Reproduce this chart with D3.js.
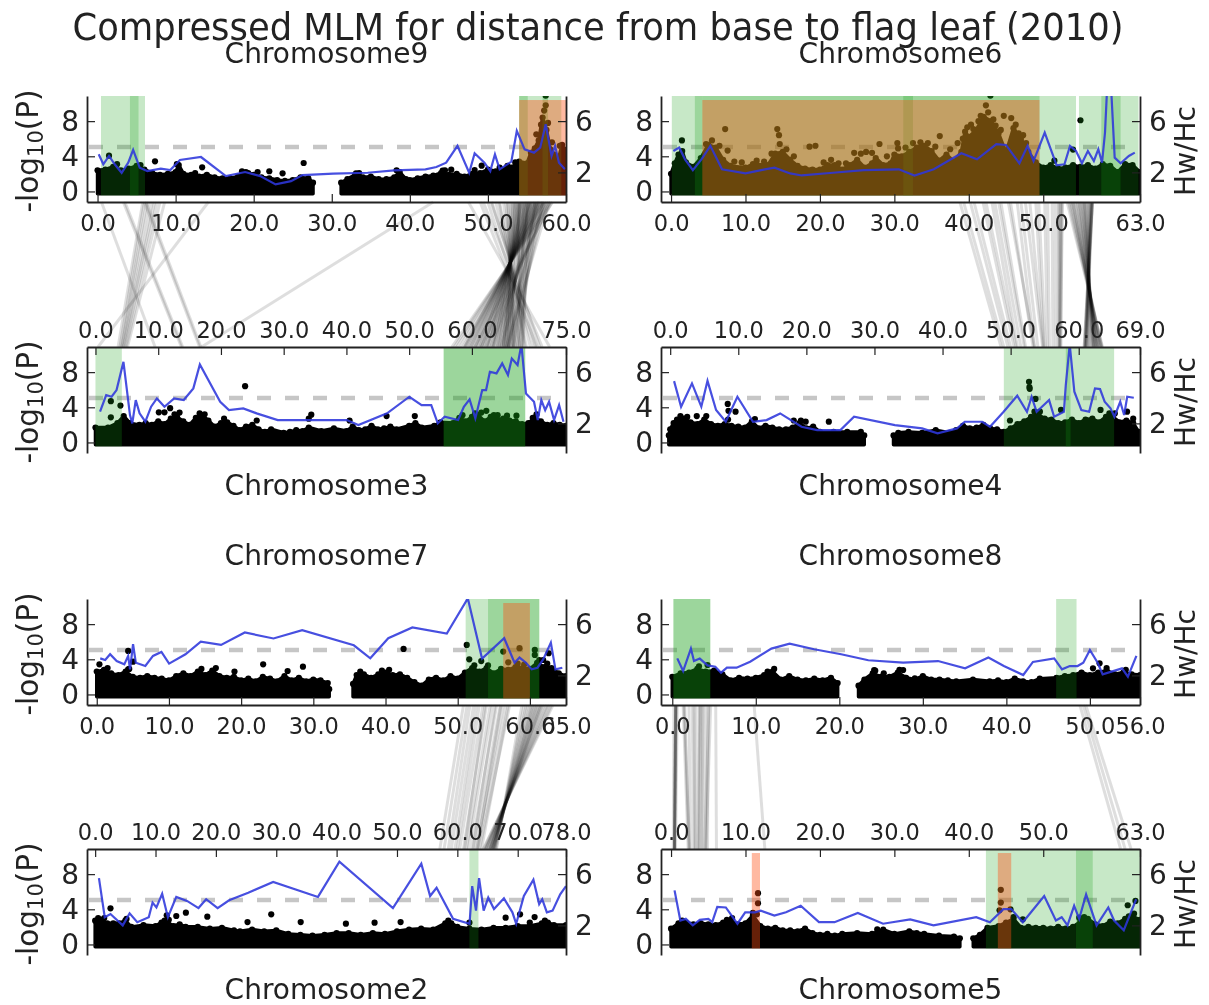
<!DOCTYPE html>
<html>
<head>
<meta charset="utf-8">
<script src="https://d3js.org/d3.v7.min.js"></script>
<style>
  html, body { margin: 0; padding: 0; background: #fff; }
  svg { display: block; filter: blur(0.7px); }
  text { font-family: "DejaVu Sans", sans-serif; fill: #222; }
</style>
</head>
<body>
<div id="chart"></div>
<script>
var chartTitle = "Compressed MLM for distance from base to flag leaf (2010)";

// position ticks (Mb), the last one is the chromosome length
var ticksChr9 = [0, 10, 20, 30, 40, 50, 60];
var ticksChr3 = [0, 10, 20, 30, 40, 50, 60, 75];
var ticksChr6 = [0, 10, 20, 30, 40, 50, 63];
var ticksChr4 = [0, 10, 20, 30, 40, 50, 60, 69];
var ticksChr7 = [0, 10, 20, 30, 40, 50, 60, 65];
var ticksChr2 = [0, 10, 20, 30, 40, 50, 60, 70, 78];
var ticksChr8 = [0, 10, 20, 30, 40, 50, 56];
var ticksChr5 = [0, 10, 20, 30, 40, 50, 63];

var leftTicks = [0, 4, 8];
var rightTicks = [2, 6];
var threshold = 5.06;

// Hw/Hc line, [position, ratio]
var blueChr9 = [[.15,3.41],[.74,2.63],[1.47,3.28],[2.2,2.63],[3.09,1.97],[3.93,2.76],[4.56,3.75],[5.4,2.37],[6.38,2.1],[8.1,2.29],[9.32,2.18],[10.55,2.97],[13.25,3.2],[16.44,1.71],[18.9,2.03],[20.85,1.71],[22.8,1.06],[24.78,1.32],[26.25,1.79],[30.2,1.9],[34.6,1.97],[38,2.16],[42,2.24],[43.4,2.42],[44.65,2.76],[46.1,4.07],[47.6,1.97],[48.3,3.49],[49.55,2.76],[50.3,2.1],[50.9,3.41],[51.5,2.24],[53,2.84],[53.7,5.24],[54.7,3.8],[55.9,3.54],[56.7,3.93],[57.4,5.76],[58.15,3.28],[58.6,4.07],[59.1,2.76],[59.86,2.24]];
var blueChr6 = [[.31,3.67],[1.1,3.93],[1.88,3.02],[2.93,2.18],[4.08,3.02],[5.28,4.07],[6.85,2.24],[10,1.92],[12.6,2.24],[13.9,2.37],[16,1.92],[17.56,1.76],[21.75,1.97],[25.9,2.18],[30.6,2.24],[32.7,1.76],[35.3,2.24],[39,3.49],[41.1,3.02],[43.7,4.2],[45,4.14],[46.8,2.71],[47.9,4.07],[48.7,2.89],[50.2,5.11],[51.8,2.55],[52.85,2.63],[53.6,4.07],[54.4,3.67],[55.2,2.71],[56,3.67],[56.8,2.89],[57.4,3.8],[57.9,2.76],[58.3,5.11],[58.6,8.8],[59.1,8.8],[59.6,3.15],[60.4,2.71],[61.5,3.28],[62.3,3.54]];
var blueChr3 = [[.73,2.91],[1.71,4.21],[2.57,4.08],[3.36,4.6],[4.46,6.8],[5.5,2.65],[5.87,2],[6.42,3.82],[7.03,2.78],[7.95,2.13],[8.87,3.3],[9.79,3.95],[11,3.3],[12.54,3.95],[14.07,3.82],[15.6,4.73],[16.64,6.6],[19.88,3.69],[21.28,3.04],[23.55,3.17],[25.69,2.78],[29.05,2.26],[33.64,2.26],[40.06,2.26],[41.9,1.87],[46.48,2.78],[50.03,4.08],[51.99,3.43],[53.52,3.43],[54.56,2],[55.66,2.52],[57.8,2.26],[58.72,3.3],[59.63,3.87],[60.55,2.39],[61.65,4.6],[62.26,4.6],[62.87,6.03],[63.92,5.9],[64.83,6.68],[65.75,5.77],[66.36,7.06],[67.28,6.55],[67.89,8.15],[68.62,4.34],[69.9,3.69],[70.5,2.26],[71.07,3.82],[71.68,3.04],[72.3,3.69],[73.1,2.26],[73.9,3.43],[74.6,2.13]];
var blueChr4 = [[.57,5.3],[1.6,3.3],[3.2,5.12],[4.57,3.3],[5.48,5.32],[6.74,3.04],[8.16,2.13],[9.87,4.08],[12.16,2.13],[14.16,2.26],[16.15,2.78],[19.29,1.74],[21.58,1.48],[25,1.48],[27,2.52],[33,1.87],[37,1.61],[39.27,1.22],[42.12,1.61],[43.26,2.13],[45.83,2.13],[46.97,1.74],[48.97,2.91],[50.97,4.16],[52.4,2.91],[53.08,4.08],[53.82,2.91],[55.65,3.82],[56.39,2.52],[57.82,2.91],[58.1,4.99],[58.68,8.15],[59.36,4.47],[60.39,3.04],[61.53,2.91],[62.39,4.73],[63.13,4.68],[63.81,3.69],[64.67,3.17],[65.24,2.52],[66.1,3.69],[66.67,2.65],[67.12,4.08],[68.09,4]];
var blueChr7 = [[.48,3.33],[1.17,3.2],[1.85,3.65],[2.76,3.12],[3.82,2.86],[4.35,3.52],[4.61,2.47],[5.03,4.43],[5.41,2.99],[6.73,2.73],[7.79,3.52],[8.96,3.83],[10.02,2.92],[12.29,3.65],[14.41,4.64],[17.22,4.38],[20.51,5.35],[24.48,4.88],[28.46,5.53],[35.61,4.35],[37.89,3.33],[40.38,4.9],[43.72,5.74],[48.49,5.27],[51.4,8.01],[53.37,3.31],[56.44,4.9],[57.87,2.99],[58.56,3.39],[59.46,2.99],[60.25,2.47],[61.05,2.6],[61.84,3.25],[62.9,4.56],[63.54,2.47],[64.49,2.6]];
var blueChr8 = [[.6,3.33],[1.3,2.34],[2.23,4.09],[2.6,3.12],[3.29,3.31],[4.22,2.78],[5.15,2.68],[5.84,2.21],[6.54,2.6],[7.7,2.6],[9.32,3.07],[11.87,4.09],[14.05,4.48],[16.98,4.04],[20.22,3.65],[23.47,3.18],[27.64,2.99],[31.82,3.12],[35.06,2.55],[37.85,3.39],[39.7,2.73],[42.02,2.03],[43.18,3.05],[45.73,3.33],[46.66,2.47],[47.59,2.73],[48.52,2.73],[49.21,2.99],[50,3.99],[50.93,2.99],[51.53,2.08],[53.85,2.55],[54.55,1.9],[55.57,3.52]];
var blueChr2 = [[.63,5.69],[1.59,2.64],[2.54,2.89],[4.57,2],[5.71,2.94],[6.98,2.25],[8.88,2.64],[9.51,3.78],[10.15,3.4],[11.1,4.47],[12.05,2.64],[13.44,4.22],[15.22,3.91],[17.12,3.35],[18.39,4.04],[20.29,3.35],[22.19,3.96],[25.36,4.55],[29.49,5.39],[36.91,4.22],[40.46,6.97],[49.33,3.35],[54.03,6.82],[55.49,4.29],[56.56,4.93],[59.29,2.51],[62.02,2.13],[62.46,5.06],[63.09,3.15],[63.6,5.69],[64.36,3.15],[65.12,4.17],[66.07,3.27],[67.72,4.11],[69.12,3.02],[69.75,2.13],[71.02,4.29],[72.6,5.57],[73.56,3.66],[74.06,4.04],[74.83,3.02],[75.78,3.15],[77.04,4.42],[78,5.06]];
var blueChr5 = [[.47,4.73],[1.25,2.38],[1.98,2.51],[2.92,2],[3.86,2.43],[5.01,2.51],[5.53,2.25],[6.21,3.45],[7.36,3.4],[8.92,2.13],[9.96,3.02],[11.27,3.02],[12.05,3.15],[13.88,2.76],[15.44,3.02],[17.42,3.53],[19.87,2.25],[21.96,2.25],[25.09,2.97],[28.48,2.13],[32.13,2.46],[35.26,2],[41,2.64],[42.83,2.25],[44.65,3.27],[45.7,3.27],[47.26,2.25],[50.13,4.29],[51.7,2.38],[52.48,2.64],[53.26,2],[54.15,3.53],[54.83,2.51],[55.76,4.42],[57.17,2],[58.74,3.4],[59.52,2.38],[60.82,1.62],[61.6,2.76],[62.49,4.04]];

// top edge of the dense SNP cloud, [position, -log10 P], null marks a centromere gap
var massChr9 = [[0,2.4],[1,2.5],[2,2.8],[3,2.4],[4,2.6],[5,2.9],[6,2.5],[7,2.1],[8,1.9],[9,2],[10,2.2],[10.4,3],[11,2],[12,1.9],[13,1.7],[14,1.9],[15,1.6],[16,1.5],[17,1.5],[18,1.7],[19,2.2],[20,1.9],[21,1.6],[22,1.5],[23,1.3],[24,1.2],[25,1.3],[26,1.6],[27,1.5],[27.6,1],[28,null],[31,null],[31.2,1],[32,1.4],[33,1.9],[34,1.6],[35,1.7],[36,1.4],[37,1.4],[38,1.6],[38.7,2.2],[39.5,1.4],[40,1.3],[41,1.5],[42,1.7],[43,1.8],[44,2.1],[45,1.9],[46,2],[47,1.7],[48,2],[49,2.1],[50,2.5],[51,2.3],[52,2.5],[53,2.7],[54,3.4],[55,3.2],[55.5,4.4],[56,4.9],[56.5,5.8],[57,8.4],[57.5,7],[58,4.8],[58.5,4.2],[59,3.6],[59.5,5.3],[60,4.2]];
var massChr6 = [[0,2],[.5,3.2],[1,4.2],[1.5,4.6],[2,3.3],[3,2.8],[4,3.8],[5,5.3],[6,5],[7,3.6],[8,2.9],[10,2.7],[11,3.1],[13,3],[14,4.3],[15,4.5],[16,3.6],[17,2.9],[18,2.6],[19,2.5],[20,2.5],[21,3],[22,3],[23,2.5],[24,3],[25,3.6],[26,2.7],[27,3.2],[27.5,3.8],[28.5,3],[29.5,3.2],[30,4.2],[31,4],[32,4.5],[33,5],[34,5.2],[35,4.6],[36,3.5],[37,4.2],[38,3.4],[39,4.5],[39.5,6.8],[40,6.2],[41,7],[42,8.5],[43,8],[44,6.6],[45,4.4],[46,7.2],[47,6],[48,4.5],[49,3.3],[50,2.7],[51,3],[52,2.6],[53,2.7],[54,3],[55,2.8],[56,3],[57,2.6],[58,3.1],[59,2.9],[60,2.2],[61,3.1],[62,3],[63,2.2]];
var massChr3 = [[0,1.7],[2,1.7],[3.5,2.2],[4.5,3],[5.5,2.2],[7,2],[8,2.2],[9,2],[10,2.4],[11,2.1],[12,2.7],[13,2.9],[14,2.4],[15,2],[16,2.8],[17,3.1],[18,2.5],[19,1.8],[20,2.2],[21,2.3],[22,1.9],[23,1.4],[24,1.8],[25,2],[26,1.5],[27,1.2],[28,1.5],[30,1.1],[31,1.2],[32,1.4],[33,1.3],[34,1.7],[36,1.3],[38,1.6],[40,1.3],[41,1.8],[42,1.4],[43,1.5],[44,1.9],[45,1.5],[46,1.6],[47,1.8],[48,1.5],[50,1.9],[51,2.2],[52,1.7],[54,1.9],[55,2.3],[57,2.2],[58,2.8],[59,2.4],[60,2.9],[61,3.1],[62,2.4],[63,2.9],[64,2.6],[65,2.7],[66,2.5],[67,2.4],[68,2.1],[69,2.2],[70,2.8],[71,2.4],[72,2],[73,2.2],[74,2],[75,1.9]];
var massChr4 = [[-.2,.8],[0,1.5],[.5,2.2],[1,2.6],[2,2.7],[3,2.3],[4,2.1],[5,2.6],[6,2.1],[7,1.9],[8,2.1],[9,1.9],[10,1.8],[11,1.7],[12,2.4],[13,1.6],[14,1.9],[15,1.7],[16,1.5],[17,1.5],[18,1.7],[19,2.2],[20,1.6],[21,1.8],[22,1.2],[24,1.2],[26,1.2],[28,1.2],[28.5,.8],[29,null],[32.5,null],[32.8,.8],[33.5,1.1],[35,1.2],[37,1.1],[39,1.4],[41,1.1],[42,1.4],[43,1.9],[44,1.6],[45,1.7],[46,2],[47,1.6],[48,1.5],[49,1.2],[50,1.6],[51,2.1],[52,2.4],[53,2.9],[54,3.2],[55,2.7],[56,2.6],[57,2.2],[58,2.3],[59,2.6],[60,2.2],[61,2.6],[62,2.7],[63,2.3],[64,2.9],[65,2.9],[66,2.3],[67,2.5],[68,2.2],[68.8,1.2],[69,.5]];
var massChr7 = [[0,2.6],[1,2.8],[2,2.4],[3,2.2],[4,2.6],[5,2],[6,1.9],[7,2.1],[8,1.9],[9,1.8],[10,1.6],[11,2.1],[12,2.4],[13,2.1],[14,2.6],[15,2.2],[16,2.7],[17,2.1],[18,1.9],[19,2],[20,1.6],[21,1.8],[22,1.5],[23,2],[24,1.8],[25,1.5],[26,2.1],[27,1.6],[28,1.9],[29,1.5],[30,1.7],[31,1.6],[32,1.3],[32.2,.6],[32.5,null],[35.2,null],[35.5,1.2],[36,2.2],[37,2.3],[38,1.9],[39,2.3],[40,2.5],[41,2.2],[42,2.3],[43,1.9],[44,1.4],[45,1],[46,1.7],[47,1.9],[48,1.6],[49,2.1],[50,1.8],[51,2.5],[52,3],[53,2.6],[54,3],[55,2.4],[56,2.9],[57,2.8],[58,3.1],[59,3],[60,2.9],[61,3.6],[62,3.1],[63,3],[64,2.4],[65,2.1]];
var massChr8 = [[0,2],[1,2.4],[2,2.5],[3,2.9],[4,2.6],[5,2.7],[6,2.3],[7,1.6],[8,1.9],[9,1.8],[10,1.9],[11,2.2],[12,2.6],[13,1.7],[14,2.1],[15,1.7],[16,1.6],[17,1.8],[18,1.6],[19,1.9],[19.8,1.3],[20,null],[22,null],[22.3,1],[23,1.7],[24,2.4],[25,2],[26,2],[27,2.5],[28,1.9],[29,1.7],[30,2.1],[31,1.7],[32,1.7],[33,1.6],[34,1.5],[36,1.7],[38,1.5],[39,1.6],[40,1.4],[41,1.8],[42,1.5],[43,1.4],[44,1.8],[46,1.9],[47,2.1],[48,2.2],[49,2.5],[50,2.2],[51,2.5],[52,2.7],[53,2.3],[54,2.5],[55,2.3],[56,2.2]];
var massChr2 = [[0,2.7],[1,2.8],[2,2.4],[3,2.4],[4,2.4],[5,2.7],[6,2],[8,2.2],[10,2.1],[11,2.5],[12,2.5],[13,2.1],[14,2.3],[15,2],[17,2],[19,1.8],[21,1.9],[23,1.6],[24,1.5],[26,1.7],[28,1.5],[30,1.6],[32,1.2],[34,1.1],[36,1],[38,1.1],[40,1.3],[42,1.3],[44,1.1],[46,1.3],[48,1.2],[50,1.5],[52,1.7],[54,1.8],[56,1.7],[58,2.4],[59,2.4],[60,2],[62,1.8],[64,1.7],[66,1.9],[68,1.9],[70,2.1],[72,2.1],[74,2.4],[75,2.5],[76,2.2],[78,2.2]];
var massChr5 = [[0,1.8],[1,2.4],[2,2.5],[3,2.3],[4,2.4],[5,2.3],[6,2.2],[7,2.5],[8,2.7],[9,2.3],[10,2.4],[11,3.3],[12,2.1],[13,1.8],[14,1.9],[15,1.6],[16,1.6],[17,1.5],[18,1.8],[19,1.3],[20,1.1],[21,1.2],[22,1],[23,1.2],[25,1.3],[27,1.2],[28.5,1.7],[30,1.2],[32,1.5],[33,1.3],[34,1.2],[36,1],[38,.9],[38.8,.7],[39,null],[40.5,null],[40.6,.7],[41.5,1.1],[42.5,1.9],[44,2.1],[45,2.5],[46,2.9],[47,1.9],[48,2],[49,1.9],[50,1.9],[51,1.8],[52,2],[53,1.8],[54,2],[55,2.6],[56,2.9],[57,2.3],[58,2.1],[59,2.6],[60,2.4],[61,2.9],[62,3.2],[63,2.8]];

// single SNPs standing clear of the cloud, or roughening its edge
var dotsChr9 = [[1.47,4.07],[7.36,3.43],[10.16,3.1],[13.4,2.74],[19.3,2.1],[22,2.3],[23.7,2.06],[26.4,3.24],[33.1,2.06],[44.2,2.36],[45.3,2.48],[48.3,2.44],[49.2,2.93],[57.4,10.9],
  [2.5,3.1],[5.5,3],[12.5,2.1],[18.5,2.3],[20.5,2.2],[33.5,2.1],[38.3,2.4],[44.5,2.4],[51.5,2.7],[52.5,2.9],[53.5,3.3],[56.2,6.5],[56.8,7.6],[57.2,9.2],[57.4,9.8],[57.7,7.8],[58.2,5.6],[59.2,5.2],[59.7,4.8]];
var dotsChr6 = [[1.46,5.8],[7.27,7.1],[14.27,7.1],[14.5,6.4],[14.6,5.4],[7.6,4.65],[18.6,5.1],[19.4,5.2],[24.6,4.4],[26.2,4.5],[28,5.4],[30.4,5.5],[42.9,10.9],[42.3,9.8],[40.6,7.1],[41.3,8],[44.7,8.6],[45.7,8.35],[55,8.1],[51.5,3.5],[54,4.76],[36.1,6.3],
  [5.5,5.8],[6.5,5.2],[4.7,5.4],[8.5,3.4],[9.5,3.3],[11.5,3.5],[12.5,3.4],[13.5,4.3],[15.5,4.8],[16.5,4],[20.5,3.3],[21.5,3.6],[22.5,3.2],[23.5,3.2],[25.5,4.3],[27,4.4],[29,4],[30.5,4.9],[31.5,5],[32.5,5.5],[33.5,5.6],[34.5,5.5],[35.5,5.1],[37.5,4.8],[38.5,5.5],[39.2,6],[39.8,7.3],[40.3,7.6],[41.6,8.6],[42.6,9],[43.3,8.2],[43.6,7.5],[44.3,7],[46.3,7.6],[46.7,6.6],[47.3,6.4],[47.7,5.5]];
var dotsChr3 = [[2.45,4.7],[3.98,4.2],[2.45,2.86],[23.85,6.4],[10.1,3.43],[11,3.43],[11.9,3.9],[34.4,3.16],[34,2.7],[46.4,3],[50.9,3],[40.5,2.5],[25.7,2.5],[62.3,3.6],[64.1,3.1],[65.6,3.05],[67.1,3.05],[69.7,2.8],
  [12.6,3.2],[13.4,3.4],[16.6,3.3],[17.4,3.2],[20.5,2.7],[58.5,3.1],[60.5,3.3],[61.5,3.4],[63.5,3.1],[70.3,3.2]];
var dotsChr4 = [[8.45,4.38],[8.56,3.6],[9.6,3.5],[23.3,2.36],[18.15,2.5],[19.9,2.36],[12.44,2.67],[49.9,2.5],[52.7,6.9],[52.76,6.3],[53.65,4.95],[52.8,6.1],[57.4,3.7],[63.2,3.7],[67.1,3.5],[3.9,3],[5.3,3],
  [1.5,3],[2.5,2.9],[8.5,2.6],[19.2,2.5],[53.5,3.5],[54.3,3.5],[64.5,3.3],[65.3,3.3],[68,2.7]];
var dotsChr7 = [[.37,3.43],[4.35,4.95],[5.03,3.73],[4.35,2.86],[23.05,3.43],[28.56,3.16],[19.08,2.6],[26.44,2.67],[42.5,5.18],[51.25,5.64],[51.6,4],[53.26,3.8],[56.3,4.88],[58.56,5.26],[60.68,5.07],[60.68,4.5],[61.84,3.92],[62.6,4.69],[57,3.66],
  [1.5,3],[4.5,2.9],[14.5,2.9],[16.5,3],[36.5,2.6],[39.5,2.7],[40.5,2.8],[52.3,3.3],[54.2,3.3],[58.3,3.5],[59.2,3.4],[61.3,3.9],[62.4,3.5]];
var dotsChr8 = [[50.37,2.97],[51.16,3.54],[4.22,3.35],[24.17,2.78],[25.32,2.4],[27.64,2.78],[11.41,2.6],[27.9,1.9],[29.04,1.83],
  [3.2,3.2],[12.2,2.9],[24.3,2.7],[27.2,2.8],[52,3],[54.3,2.8]];
var dotsChr2 = [[2.54,4.11],[11.86,3.31],[13.44,3.24],[15.03,3.62],[18.58,3.16],[29.17,3.43],[34.05,2.55],[25.24,2.55],[41.54,2.36],[46.29,2.48],[50.6,2.55],[70.39,3.43],[72.8,3.12],[68,3.05],[62,2.48],
  [.5,3],[1.5,3],[5.2,2.9],[11.5,2.7],[12.2,2.8],[58.5,2.7],[74.5,2.7],[72,2.5]];
var dotsChr5 = [[11.68,5.83],[11.68,4.69],[44.3,6.21],[44.3,4.76],[45.6,4],[61.35,4.46],[62.39,4.95],[44.13,3.89],[47.26,2.86],[54.83,3.05],[27.7,1.71],[11.53,3.43],
  [1.5,2.7],[7.5,2.8],[8.2,3],[11,3.6],[55.5,3.1],[61.5,3.2],[62.2,3.5],[46,3.1]];

// selection regions, [start, end], overlapping spans get darker
var greenChr9 = [[.44,6.08],[4.15,5.25],[54,59.4],[54,55.1],[57,57.7]];
var redChr9 = [[54,60]];
var greenChr6 = [[.1,4.2],[3.2,49.5],[4.2,49.5],[31.2,32.5],[49.5,54.4],[54.8,60.4],[57.8,60.4],[60.4,62.8]];
var redChr6 = [[4.2,49.5]];
var greenChr3 = [[0,4.2],[55.5,68.5],[55.5,68.5]];
var redChr3 = [];
var greenChr4 = [[49,65.2],[58.1,58.8]];
var redChr4 = [];
var greenChr7 = [[51.1,61.3],[54.2,61.3]];
var redChr7 = [[56.3,60]];
var greenChr8 = [[.14,4.55],[.14,4.55],[45.96,48.4]];
var redChr8 = [];
var greenChr2 = [[62,63.5]];
var redChr2 = [];
var greenChr5 = [[42.3,63],[54.4,56.65]];
var redChr5 = [[10.85,11.95],[43.9,45.7]];

// synteny links between paired chromosomes, [position on upper, position on lower]
var linksChr9Chr3 = [[.5,9.5],[3.3,13.7],[3.5,13.9],[6,16.6],[6.2,16.8],[5.8,3.6],[6,3.9],[6.3,4.1],[6.6,4.2],[7,4.4],[7.3,4.5],[7.6,4.7],[8,4.9],[8.6,5.1],[14.2,.4],[43,16.9],[47.5,72.4],[49,70.4],[49.4,71.2],[50,69.8],[50.4,70.8],
  [50.5,70.2],[51,69.3],[51.4,68.7],[51.5,68.5],[52,67.6],[52.3,67],[52.5,66.7],[53,65.9],[53.2,65.4],[53.5,65],[53.8,64.4],[54,64.1],[54.3,63.6],[54.5,63.3],[54.8,62.7],[55,62.4],[55.3,61.9],[55.5,61.5],[55.7,61.2],[56,60.7],[56.2,60.2],[56.5,59.8],[56.7,59.4],[57,58.9],[57.2,58.6],[57.5,58.1],[57.8,57.6],[58,57.2],[58.3,56.8],[54,67.5],[54.5,68],[55,68.2],[55.5,68],[56,67.5],[56.5,67.2],[57,66.6],[57.4,66],[57.8,65.5],[54.2,65],[55.2,65.2],[56.2,65.5],
  [52.6,66.4],[52.9,65.9],[53.3,65.5],[53.6,65],[53.9,64.6],[54.1,64],[54.4,63.5],[54.6,63.1],[54.9,62.6],[55.1,62.2],[55.4,61.8],[55.6,61.3],[55.9,60.9],[56.1,60.5],[56.4,60],[56.6,59.6],[56.9,59.1],[57.1,58.8],[53.4,66.5],[54.1,66],[54.7,65.5],[55.4,65],[55.8,64.5],[56.3,64],[56.8,63.4],[57.3,63],[57.6,62.3],[58,61.5],[58.2,60.5],[53.7,67.9],[54.9,67],[56,66.6],[57,65.8],[55.2,66.4],[56.4,65.8],[57.2,64.6]];
var linksChr6Chr4 = [[38.8,48.6],[39.3,49],[40.2,49.6],[40.7,50],[41.9,50.5],[42.3,50.8],[43.1,51],[43.5,51.5],[44,52],[44.3,52.2],[45.3,53.5],[45.6,53.3],[46.5,53.5],[47,54],[47.6,54.7],[48.2,54.8],[49,54.9],[49.4,55.1],[50.2,55.4],[50.6,55.7],[51.2,56.2],[51.6,56.6],[52,57],[52.1,57.1],[52.3,57.2],[52.4,57.2],[52.5,57.4],[52.6,57.3],
  [53.2,63.5],[53.4,63.4],[53.7,63.3],[54.1,63],[54.3,62.9],[54.5,62.8],[55,62.5],[55.2,62.4],[55.4,62.2],[55.7,62],[56,61.6],[56.3,61.2],[56.6,60.8],[53.9,63.2],[54.8,62.6],[55.6,62.1],[56.1,61.5],[56.5,61],[56.6,60.9],[56.6,60.8],[53.6,63.4],[54,63],[54.6,62.7],[54.9,62.5],[55.3,62.3],[55.5,62.1],[55.8,61.9],[56.2,61.4],[56.4,61.1],[56.6,61],[56.5,60.9],[56.6,61.1]];
var linksChr7Chr2 = [[50.8,57.1],[51.3,57.8],[51.7,58.5],[52.2,59],[52.6,59.6],[53,60],[53.5,60.4],[54,61],[54.5,61.5],[54.8,61.8],[55.4,62.3],[55.9,62.8],[56.3,63.2],[56.7,63.4],[57.2,63.7],[55.2,62.6],[53.8,61.2],[56,63.3],[57,64],
  [58.9,66.5],[59.5,66.2],[60,66],[60.5,65.9],[60.9,65.6],[61.4,65.4],[61.8,65.1],[62.3,64.8],[62.7,64.6],[63.2,64.3],[59.2,66.4],[60.2,66],[61,65.7],[62,65],[59.7,66.2],[60.7,65.8],[61.2,65.5],[61.6,65.3],[62.5,64.7],[63,64.4],[60.4,65.9],[61.5,65.4]];
var linksChr8Chr5 = [[.4,.45],[.4,.45],[.4,.45],[.4,.45],[.45,.45],[.5,.5],[.6,.6],[.2,.3],[1.4,2.5],[1.3,2.3],[1.5,2.4],[2.4,3],[2,2.6],[2.8,3.3],[2.6,3.2],[3.2,3.6],[3.3,3.7],[3.4,3.8],[3.6,4.2],[3.7,4.1],[4,4.6],[4.3,4.9],[4.4,4.5],[4.6,4.7],[5.2,6.1],[9.8,12.6],[48.8,60.4],[49.2,61],[49.5,61.8]];

var panelW = 479, panelH = 106;
var colLeft = [87, 661];
var rowTop = [96, 347, 599, 849];

var panels = [
  { name: "Chromosome9", len: 60, col: 0, row: 0, ticks: ticksChr9, blue: blueChr9, mass: massChr9, dots: dotsChr9, green: greenChr9, red: redChr9 },
  { name: "Chromosome6", len: 63, col: 1, row: 0, ticks: ticksChr6, blue: blueChr6, mass: massChr6, dots: dotsChr6, green: greenChr6, red: redChr6 },
  { name: "Chromosome3", len: 75, col: 0, row: 1, ticks: ticksChr3, blue: blueChr3, mass: massChr3, dots: dotsChr3, green: greenChr3, red: redChr3 },
  { name: "Chromosome4", len: 69, col: 1, row: 1, ticks: ticksChr4, blue: blueChr4, mass: massChr4, dots: dotsChr4, green: greenChr4, red: redChr4 },
  { name: "Chromosome7", len: 65, col: 0, row: 2, ticks: ticksChr7, blue: blueChr7, mass: massChr7, dots: dotsChr7, green: greenChr7, red: redChr7 },
  { name: "Chromosome8", len: 56, col: 1, row: 2, ticks: ticksChr8, blue: blueChr8, mass: massChr8, dots: dotsChr8, green: greenChr8, red: redChr8 },
  { name: "Chromosome2", len: 78, col: 0, row: 3, ticks: ticksChr2, blue: blueChr2, mass: massChr2, dots: dotsChr2, green: greenChr2, red: redChr2 },
  { name: "Chromosome5", len: 63, col: 1, row: 3, ticks: ticksChr5, blue: blueChr5, mass: massChr5, dots: dotsChr5, green: greenChr5, red: redChr5 }
];

var pairs = [
  { upper: 0, lower: 2, links: linksChr9Chr3 },
  { upper: 1, lower: 3, links: linksChr6Chr4 },
  { upper: 4, lower: 6, links: linksChr7Chr2 },
  { upper: 5, lower: 7, links: linksChr8Chr5 }
];

var svg = d3.select("#chart")
  .append("svg")
  .attr("width", 1209)
  .attr("height", 1005);

panels.forEach(function (p) {
  p.left = colLeft[p.col];
  p.top = rowTop[p.row];
  p.x = d3.scaleLinear().domain([-1.35, p.len]).range([p.left, p.left + panelW]);
  p.y = d3.scaleLinear().domain([-1.2, 10.86]).range([p.top + panelH, p.top]);
  p.yr = d3.scaleLinear().domain([-0.31, 7.96]).range([p.top + panelH, p.top]);
});

// links go under everything else
pairs.forEach(function (pair) {
  var up = panels[pair.upper], lo = panels[pair.lower];
  svg.append("g")
    .selectAll("line")
    .data(pair.links)
    .enter()
    .append("line")
    .attr("x1", function (d) { return up.x(d[0]); })
    .attr("x2", function (d) { return lo.x(d[1]); })
    .attr("y1", up.y.range()[0])
    .attr("y2", lo.y.range()[1])
    .attr("stroke", "#000")
    .attr("stroke-opacity", 0.13)
    .attr("stroke-width", 3);
});

var massArea = d3.area()
  .defined(function (d) { return d[1] !== null; });

panels.forEach(function (p, i) {
  var g = svg.append("g");

  g.append("clipPath")
    .attr("id", "clip" + i)
    .append("rect")
    .attr("x", p.left)
    .attr("y", p.top)
    .attr("width", panelW)
    .attr("height", panelH);

  var body = g.append("g").attr("clip-path", "url(#clip" + i + ")");

  body.append("line")
    .attr("x1", p.left + 2)
    .attr("x2", p.left + panelW - 8)
    .attr("y1", p.y(threshold))
    .attr("y2", p.y(threshold))
    .attr("stroke", "#c6c6c6")
    .attr("stroke-width", 4.5)
    .attr("stroke-dasharray", "14,14");

  massArea
    .x(function (d) { return p.x(d[0]); })
    .y0(p.y(-0.25))
    .y1(function (d) { return p.y(d[1]); });

  body.append("path")
    .attr("d", massArea(p.mass))
    .attr("fill", "#000")
    .attr("stroke", "#000")
    .attr("stroke-width", 3.5)
    .attr("stroke-linejoin", "round");

  body.append("g")
    .selectAll("circle")
    .data(p.mass.filter(function (d) { return d[1] !== null; }).concat(p.dots))
    .enter()
    .append("circle")
    .attr("cx", function (d) { return p.x(d[0]); })
    .attr("cy", function (d) { return p.y(d[1]); })
    .attr("r", 3.1)
    .attr("fill", "#000");

  body.append("g")
    .selectAll("rect")
    .data(p.green)
    .enter()
    .append("rect")
    .attr("x", function (d) { return p.x(d[0]); })
    .attr("width", function (d) { return p.x(d[1]) - p.x(d[0]); })
    .attr("y", p.top)
    .attr("height", p.y(-0.46) - p.top)
    .attr("fill", "rgb(20,160,20)")
    .attr("fill-opacity", 0.24);

  body.append("g")
    .selectAll("rect")
    .data(p.red)
    .enter()
    .append("rect")
    .attr("x", function (d) { return p.x(d[0]); })
    .attr("width", function (d) { return p.x(d[1]) - p.x(d[0]); })
    .attr("y", p.y(10.4))
    .attr("height", p.y(-0.46) - p.y(10.4))
    .attr("fill", "rgb(255,80,20)")
    .attr("fill-opacity", 0.4);

  var line = d3.line()
    .x(function (d) { return p.x(d[0]); })
    .y(function (d) { return p.yr(d[1]); });

  body.append("path")
    .attr("d", line(p.blue))
    .attr("fill", "none")
    .attr("stroke", "rgb(45,55,220)")
    .attr("stroke-opacity", 0.88)
    .attr("stroke-width", 2.2);

  // axes, matplotlib style ticks pointing inward
  var upper = p.row % 2 === 0;
  var xAxis = (upper ? d3.axisBottom(p.x) : d3.axisTop(p.x))
    .tickValues(p.ticks)
    .tickFormat(d3.format(".1f"))
    .tickSizeInner(-8)
    .tickSizeOuter(0)
    .tickPadding(upper ? 13 : 9);

  var xg = g.append("g")
    .attr("transform", "translate(0," + (upper ? p.top + panelH : p.top) + ")")
    .call(xAxis);
  xg.selectAll("text").style("font-size", "22.5px");

  var leftAxis = d3.axisLeft(p.y).tickValues(leftTicks).tickSizeInner(-8).tickSizeOuter(0).tickPadding(8);
  var lg = g.append("g")
    .attr("transform", "translate(" + p.left + ",0)")
    .call(leftAxis);
  lg.selectAll("text").style("font-size", "28px");

  var rightAxis = d3.axisRight(p.yr).tickValues(rightTicks).tickSizeInner(-8).tickSizeOuter(0).tickPadding(9);
  var rg = g.append("g")
    .attr("transform", "translate(" + (p.left + panelW) + ",0)")
    .call(rightAxis);
  rg.selectAll("text").style("font-size", "28px");

  [xg, lg, rg].forEach(function (a) {
    a.select(".domain").attr("stroke", "#222").attr("stroke-width", 1.8);
    a.selectAll(".tick line").attr("stroke", "#222").attr("stroke-width", 1.2);
  });

  // chromosome name above upper panels, below lower ones
  g.append("text")
    .attr("x", p.left + panelW / 2 + 0)
    .attr("y", p.row === 0 ? 63 : p.row === 1 ? 495 : p.row === 2 ? 565 : 999)
    .attr("text-anchor", "middle")
    .style("font-size", "28px")
    .text(p.name);

  var midY = p.top + panelH / 2;
  if (p.col === 0) {
    var yl = g.append("text")
      .attr("transform", "translate(38," + (midY + 2) + ") rotate(-90)")
      .attr("text-anchor", "middle")
      .style("font-size", "29.5px");
    yl.append("tspan").text("-log");
    yl.append("tspan").attr("dy", 5).style("font-size", "21px").text("10");
    yl.append("tspan").attr("dy", -5).text("(P)");
  } else {
    g.append("text")
      .attr("transform", "translate(1195," + (midY + 2) + ") rotate(-90)")
      .attr("text-anchor", "middle")
      .style("font-size", "28px")
      .text("Hw/Hc");
  }
});

svg.append("text")
  .attr("x", 598)
  .attr("y", 40)
  .attr("text-anchor", "middle")
  .attr("textLength", 1051)
  .attr("lengthAdjust", "spacingAndGlyphs")
  .style("font-size", "37px")
  .text(chartTitle);
</script>
</body>
</html>
